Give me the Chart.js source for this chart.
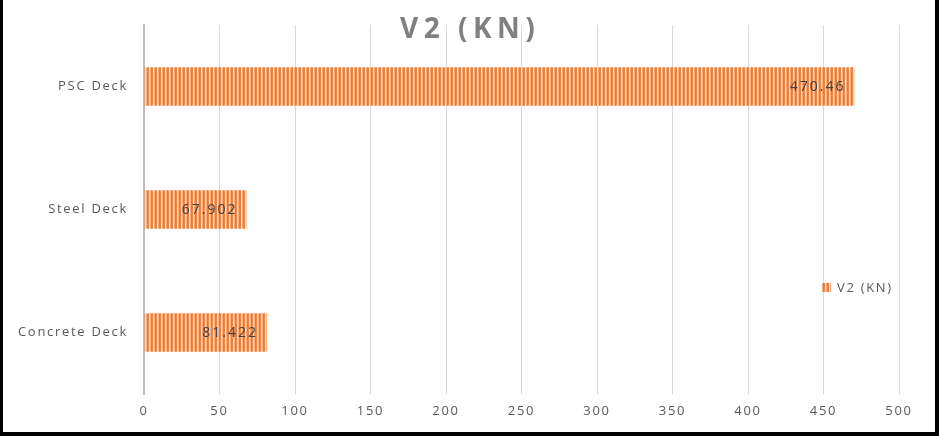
<!DOCTYPE html>
<html>
<head>
<meta charset="utf-8">
<script src="https://cdn.jsdelivr.net/npm/chart.js@4.4.1/dist/chart.umd.min.js"></script>
<style>
  html, body { margin: 0; padding: 0; background: #000; }
  #frame { position: absolute; left: 3px; top: 0; width: 932px; height: 432px; background: #fff; }
  #c { display: block; }
</style>
</head>
<body>
<div id="frame"><canvas id="c" width="932" height="432"></canvas></div>
<script>
const categories = ["PSC Deck", "Steel Deck", "Concrete Deck"];
const seriesName = "V2 (KN)";
const values = [470.46, 67.902, 81.422];
const valueLabels = ["470.46", "67.902", "81.422"];
const xTicks = [0, 50, 100, 150, 200, 250, 300, 350, 400, 450, 500];
const chartTitle = "V2 (KN)";

const FONT = "'Open Sans', 'Noto Sans', sans-serif";
const SPACING = '1.7px';

function makePattern(ctx) {
  const p = document.createElement('canvas');
  p.width = 4; p.height = 4;
  const g = p.getContext('2d');
  const cols = ['#ED7D31', '#EE8440', '#FCE2D0', '#F4AE80'];
  cols.forEach((col, i) => { g.fillStyle = col; g.fillRect(i, 0, 1, 4); });
  return ctx.createPattern(p, 'repeat');
}

const ctx = document.getElementById('c').getContext('2d');
const stripes = makePattern(ctx);

function setSpacing(chart) {
  if ('letterSpacing' in chart.ctx) chart.ctx.letterSpacing = SPACING;
}

const overlay = {
  id: 'overlay',
  beforeUpdate: setSpacing,
  beforeLayout: setSpacing,
  beforeDraw: setSpacing,
  afterDatasetsDraw(chart) {
    const c = chart.ctx;
    const meta = chart.getDatasetMeta(0);
    c.save();
    c.font = "14px " + FONT;
    if ('letterSpacing' in c) c.letterSpacing = '2px';
    c.fillStyle = '#404040';
    c.textAlign = 'right';
    c.textBaseline = 'middle';
    meta.data.forEach((bar, i) => {
      c.fillText(valueLabels[i], bar.x - 9, bar.y + 1);
    });
    c.restore();
  },
  afterDraw(chart) {
    const c = chart.ctx;
    const a = chart.chartArea;
    c.save();
    // title
    c.font = "bold 28px " + FONT;
    c.fillStyle = '#808080';
    c.textAlign = 'left';
    c.textBaseline = 'middle';
    if ('letterSpacing' in c) c.letterSpacing = '5.5px';
    c.fillText(chartTitle, 397, 30);
    // legend
    if ('letterSpacing' in c) c.letterSpacing = SPACING;
    const lx = a.right - 77, ly = 287;
    c.fillStyle = stripes;
    c.fillRect(lx, ly - 4, 9, 9);
    c.font = "13px " + FONT;
    c.fillStyle = '#595959';
    c.fillText(seriesName, lx + 15, ly + 1);
    c.restore();
  }
};

new Chart(ctx, {
  type: 'bar',
  data: {
    labels: categories,
    datasets: [{
      label: seriesName,
      data: values,
      backgroundColor: stripes,
      borderWidth: 0,
      categoryPercentage: 0.8,
      barPercentage: 0.39
    }]
  },
  options: {
    indexAxis: 'y',
    responsive: false,
    animation: false,
    devicePixelRatio: 1,
    layout: { padding: { left: 0, top: 25, right: 36, bottom: 0 } },
    plugins: {
      legend: { display: false },
      title: { display: false },
      tooltip: { enabled: false }
    },
    scales: {
      x: {
        min: 0, max: 500,
        afterBuildTicks(scale) { scale.ticks = xTicks.map(v => ({ value: v })); },
        afterFit(scale) { scale.height = 38; },
        grid: { color: '#d9d9d9', lineWidth: 1, drawTicks: false },
        border: { display: false },
        ticks: { padding: 9, color: '#595959', font: { family: FONT, size: 13 } }
      },
      y: {
        afterFit(scale) { scale.width = 141; },
        grid: { display: false, drawTicks: false },
        border: { display: true, color: '#bfbfbf', width: 2 },
        ticks: { padding: 16, color: '#595959', font: { family: FONT, size: 13 } }
      }
    }
  },
  plugins: [overlay]
});
</script>
</body>
</html>
